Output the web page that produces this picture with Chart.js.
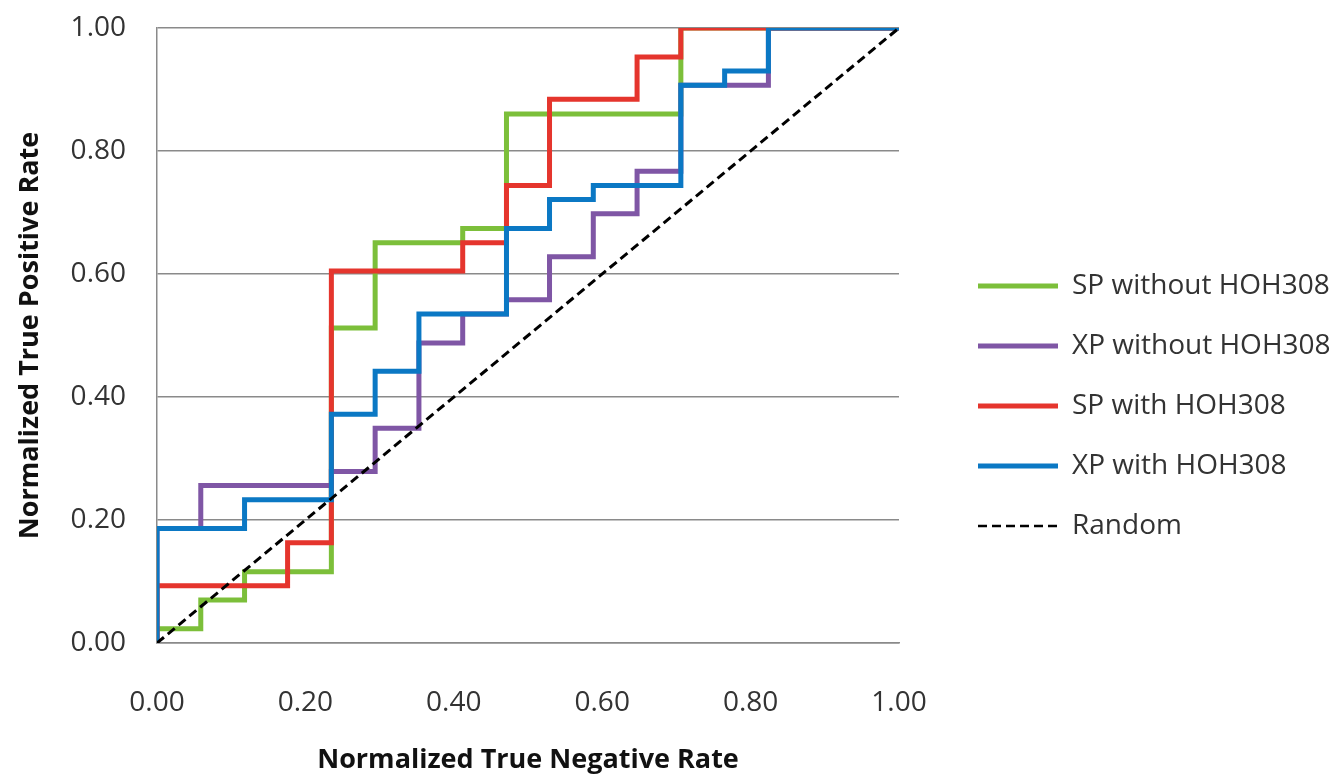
<!DOCTYPE html>
<html>
<head>
<meta charset="utf-8">
<script src="https://cdn.jsdelivr.net/npm/chart.js@4.4.1/dist/chart.umd.min.js"></script>
<style>
  body { margin: 0; background: #fff; }
  .wrap { width: 1339px; height: 776px; }
</style>
</head>
<body>
<div class="wrap"><canvas id="roc"></canvas></div>
<script>
// step points (x = true negative rate, y = true positive rate)
const spNoX = [0, 0, 0.059, 0.118, 0.235, 0.294, 0.412, 0.471, 0.706, 1];
const spNoY = [0, 0.023, 0.070, 0.116, 0.512, 0.651, 0.674, 0.860, 1.000, 1.000];

const xpNoX = [0, 0, 0.059, 0.235, 0.294, 0.353, 0.412, 0.471, 0.529, 0.588, 0.647, 0.706, 0.824, 1];
const xpNoY = [0, 0.186, 0.256, 0.279, 0.349, 0.488, 0.535, 0.558, 0.628, 0.698, 0.767, 0.907, 1.000, 1.000];

const spWithX = [0, 0, 0.176, 0.235, 0.412, 0.471, 0.529, 0.647, 0.706, 1];
const spWithY = [0, 0.093, 0.163, 0.605, 0.651, 0.744, 0.884, 0.953, 1.000, 1.000];

const xpWithX = [0, 0, 0.118, 0.235, 0.294, 0.353, 0.471, 0.529, 0.588, 0.706, 0.765, 0.824, 1];
const xpWithY = [0, 0.186, 0.233, 0.372, 0.442, 0.535, 0.674, 0.721, 0.744, 0.907, 0.930, 1.000, 1.000];

const randomX = [0, 1];
const randomY = [0, 1];

const seriesNames = ['SP without HOH308', 'XP without HOH308', 'SP with HOH308', 'XP with HOH308', 'Random'];
const axisTicks = [0, 0.2, 0.4, 0.6, 0.8, 1.0];

const pts = (xs, ys) => xs.map((x, i) => ({ x: x, y: ys[i] }));

const FONT = "'Open Sans', sans-serif";

new Chart(document.getElementById('roc'), {
  type: 'scatter',
  data: {
    datasets: [
      { label: seriesNames[0], data: pts(spNoX, spNoY), borderColor: '#7cbf3a', backgroundColor: '#7cbf3a', borderWidth: 5, stepped: true, order: 4 },
      { label: seriesNames[1], data: pts(xpNoX, xpNoY), borderColor: '#7f56a5', backgroundColor: '#7f56a5', borderWidth: 5, stepped: true, order: 3 },
      { label: seriesNames[2], data: pts(spWithX, spWithY), borderColor: '#e5352d', backgroundColor: '#e5352d', borderWidth: 5, stepped: true, order: 2 },
      { label: seriesNames[3], data: pts(xpWithX, xpWithY), borderColor: '#0b78c4', backgroundColor: '#0b78c4', borderWidth: 5, stepped: true, order: 1 },
      { label: seriesNames[4], data: pts(randomX, randomY), borderColor: '#000', backgroundColor: '#000', borderWidth: 3, borderDash: [9, 5], order: 0 }
    ]
  },
  options: {
    responsive: true,
    maintainAspectRatio: false,
    animation: false,
    showLine: true,
    elements: { point: { radius: 0, hoverRadius: 0 }, line: { borderJoinStyle: 'miter' } },
    layout: { padding: { top: 28, left: 0, right: 0, bottom: 0 } },
    scales: {
      x: {
        type: 'linear',
        min: 0, max: 1,
        afterBuildTicks: s => { s.ticks = axisTicks.map(v => ({ value: v })); },
        afterFit: s => { s.height = 133; },
        grid: { display: false },
        border: { display: true, color: '#8a8a8a', width: 1.5 },
        ticks: {
          padding: 35,
          color: '#333',
          font: { family: FONT, size: 28 },
          maxRotation: 0,
          callback: v => v.toFixed(2)
        },
        title: {
          display: true,
          text: 'Normalized True Negative Rate',
          color: '#111',
          font: { family: FONT, size: 27, weight: 'bold', lineHeight: 1.1 },
          padding: { top: 0, bottom: 1 }
        }
      },
      y: {
        type: 'linear',
        min: 0, max: 1,
        afterBuildTicks: s => { s.ticks = axisTicks.map(v => ({ value: v })); },
        afterFit: s => { s.width = 157; s.paddingTop = 0; s.paddingBottom = 0; },
        grid: { color: '#8a8a8a', lineWidth: 1.5, drawTicks: false },
        border: { display: true, color: '#8a8a8a', width: 1.5 },
        ticks: {
          padding: 31,
          color: '#333',
          font: { family: FONT, size: 28 },
          callback: v => v.toFixed(2)
        },
        title: {
          display: true,
          text: 'Normalized True Positive Rate',
          color: '#111',
          font: { family: FONT, size: 27, weight: 'bold', lineHeight: 1.1 },
          padding: { top: 15, bottom: 0 }
        }
      },
      // empty spacer between the plot and the legend
      gap: {
        type: 'linear',
        position: 'right',
        display: true,
        grid: { display: false },
        border: { display: false },
        ticks: { display: false },
        afterFit: s => { s.width = 47; }
      }
    },
    plugins: {
      legend: {
        position: 'right',
        maxWidth: 393,
        // blank title only nudges the items down a little
        title: { display: true, text: '', font: { size: 8, lineHeight: 1 }, padding: 0 },
        labels: {
          usePointStyle: true,
          pointStyle: 'line',
          pointStyleWidth: 80,
          padding: 32,
          color: '#333',
          font: { family: FONT, size: 28 },
          sort: (a, b) => a.datasetIndex - b.datasetIndex,
          generateLabels: chart => {
            const items = Chart.defaults.plugins.legend.labels.generateLabels(chart);
            items.forEach(item => {
              const ds = chart.data.datasets[item.datasetIndex];
              item.strokeStyle = ds.borderColor;
              item.lineWidth = ds.borderDash ? 2.5 : 5;
              item.lineDash = ds.borderDash || [];
            });
            return items;
          }
        }
      },
      tooltip: { enabled: false }
    }
  }
});
</script>
</body>
</html>
